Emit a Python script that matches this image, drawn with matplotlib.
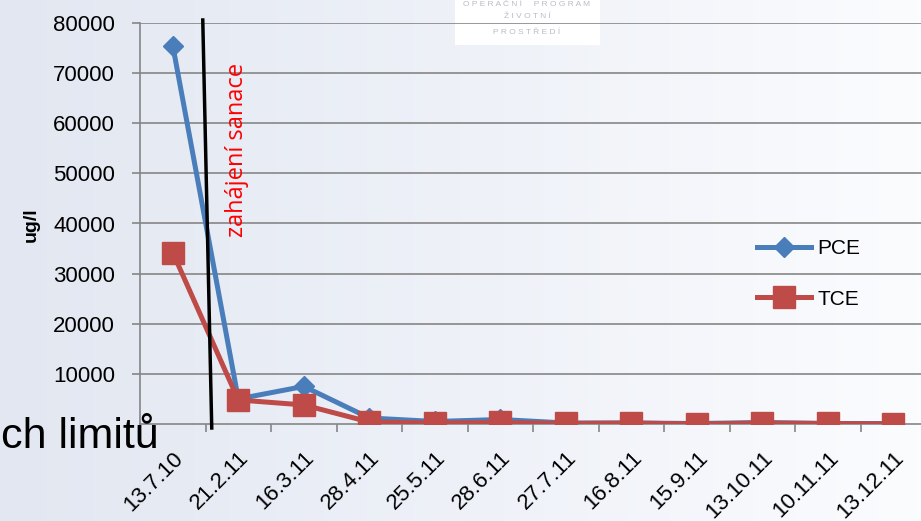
import numpy as np
import matplotlib
matplotlib.use("Agg")
import matplotlib.pyplot as plt
from matplotlib.colors import LinearSegmentedColormap
from matplotlib.patches import Rectangle

# data
dates = ["13.7.10", "21.2.11", "16.3.11", "28.4.11", "25.5.11", "28.6.11",
         "27.7.11", "16.8.11", "15.9.11", "13.10.11", "10.11.11", "13.12.11"]
pce = [75500, 5000, 7500, 1200, 500, 900, 200, 200, 100, 300, 100, 100]
tce = [34200, 4800, 3800, 400, 200, 300, 100, 200, 0, 200, 100, 0]
yticks = [10000, 20000, 30000, 40000, 50000, 60000, 70000, 80000]

plt.rcParams['font.family'] = ['Liberation Sans', 'DejaVu Sans']

fig = plt.figure(figsize=(9.21, 5.21), dpi=100)

# slide background: soft blue-grey gradient
bg = fig.add_axes([0, 0, 1, 1], zorder=-10)
cmap = LinearSegmentedColormap.from_list("slide", ["#e2e7f1", "#eef1f8", "#fbfcfe"])
bg.imshow(np.linspace(0, 1, 256)[None, :], cmap=cmap, aspect="auto",
          extent=[0, 1, 0, 1])
bg.set_xlim(0, 1)
bg.set_ylim(0, 1)
bg.axis("off")

# logo patch at top (under the chart)
bg.add_patch(Rectangle((455 / 921, 1 - 45 / 521), 145 / 921, 45 / 521,
                       facecolor="white", edgecolor="none"))
for txt, ypx in [("OPERAČNÍ  PROGRAM", 5), ("ŽIVOTNÍ", 17), ("PROSTŘEDÍ", 32)]:
    bg.text(527 / 921, 1 - ypx / 521, " ".join(txt), ha="center", va="center",
            fontsize=6, color="#b8bcc4")

# slide text peeking out from behind the chart
fig.text(0.001, 1 - 448 / 521, "ch limitů", fontsize=31, color="black",
         ha="left", va="baseline")

ax = fig.add_axes([140 / 921, 1 - 424 / 521, 781 / 921, 401 / 521])
ax.set_facecolor("none")

x = np.arange(len(dates))
ax.plot(x, pce, color="#4a7ebb", lw=3.6, marker="D", markersize=10,
        label="PCE", zorder=3, solid_joinstyle="round")
ax.plot(x, tce, color="#be4b48", lw=3.6, marker="s", markersize=16,
        label="TCE", zorder=4, solid_joinstyle="round")

ax.set_xlim(-0.5, 11.42)
ax.set_ylim(0, 80000)

ax.set_yticks(yticks)
ax.set_yticklabels([str(v) for v in yticks], fontsize=16)
ax.tick_params(axis="y", length=6, width=1.2, color="#868686", pad=12)
ax.yaxis.grid(True, color="#868686", lw=1.2)
ax.set_axisbelow(True)

ax.set_xticks(x)
ax.set_xticklabels(dates, rotation=45, ha="right", va="top",
                   rotation_mode="anchor", fontsize=16)
ax.tick_params(axis="x", which="major", length=0, pad=17)
ax.set_xticks(x[:-1] + 0.5, minor=True)
ax.tick_params(axis="x", which="minor", length=6, width=1.2, color="#868686")

for side in ["top", "right"]:
    ax.spines[side].set_visible(False)
ax.spines["left"].set_color("#868686")
ax.spines["left"].set_linewidth(1.2)
ax.spines["bottom"].set_color("#868686")
ax.spines["bottom"].set_linewidth(1.2)

# start of remediation marker
ax.plot([0.458, 0.595], [80600, -800], color="black", lw=2.5,
        clip_on=False, zorder=5)
fig.text(237 / 921, 1 - 150 / 521, "zahájení sanace", rotation=90,
         color="red", fontsize=17, ha="center", va="center",
         family=["Open Sans", "DejaVu Sans"])

fig.text(31 / 921, 1 - 225 / 521, "ug/l", rotation=90, fontsize=14,
         fontweight="bold", ha="center", va="center")

ax.legend(loc="center left", bbox_to_anchor=(738 / 921, 1 - 274 / 521),
          bbox_transform=fig.transFigure, frameon=False, fontsize=15,
          handlelength=2.6, labelspacing=1.5, handletextpad=0.3)

fig.savefig("out.png", dpi=100)
